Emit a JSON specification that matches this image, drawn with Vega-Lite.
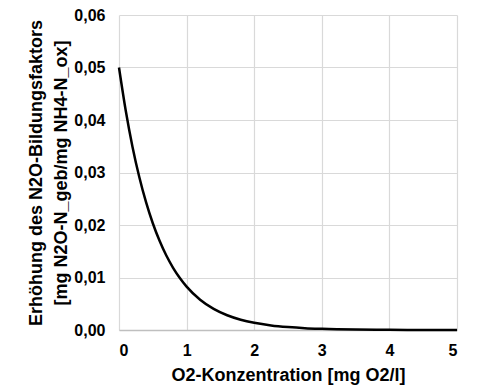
{
  "$schema": "https://vega.github.io/schema/vega-lite/v6.json",
  "width": 338,
  "height": 315,
  "autosize": "none",
  "padding": {"left": 119, "top": 15, "right": 20, "bottom": 59},
  "background": "white",
  "config": {
    "view": {"stroke": null},
    "font": "Liberation Sans"
  },
  "data": {
    "values": [
      {"x": 0, "y": 0.05},
      {"x": 0.1, "y": 0.04176},
      {"x": 0.2, "y": 0.03488},
      {"x": 0.3, "y": 0.02914},
      {"x": 0.4, "y": 0.02434},
      {"x": 0.5, "y": 0.02033},
      {"x": 0.6, "y": 0.01698},
      {"x": 0.7, "y": 0.01418},
      {"x": 0.8, "y": 0.01185},
      {"x": 0.9, "y": 0.0099},
      {"x": 1.0, "y": 0.00826},
      {"x": 1.2, "y": 0.00577},
      {"x": 1.4, "y": 0.00402},
      {"x": 1.6, "y": 0.00281},
      {"x": 1.8, "y": 0.00196},
      {"x": 2.0, "y": 0.00137},
      {"x": 2.25, "y": 0.00087},
      {"x": 2.5, "y": 0.00056},
      {"x": 2.75, "y": 0.00035},
      {"x": 3.0, "y": 0.00023},
      {"x": 3.5, "y": 0.00009},
      {"x": 4.0, "y": 0.000037},
      {"x": 4.5, "y": 0.000015},
      {"x": 5.0, "y": 0.000006}
    ]
  },
  "mark": {"type": "line", "color": "black", "strokeWidth": 2.5, "interpolate": "monotone"},
  "encoding": {
    "x": {
      "field": "x", "type": "quantitative",
      "scale": {"domain": [0, 5], "nice": false},
      "axis": {
        "values": [0, 1, 2, 3, 4, 5],
        "title": "O2-Konzentration [mg O2/l]",
        "titleFontSize": 18, "titleFontWeight": "bold", "titleColor": "#000000",
        "titlePadding": 8,
        "labelFontSize": 16, "labelFontWeight": "bold", "labelColor": "#000000",
        "labelPadding": 12,
        "ticks": false,
        "domainColor": "#bfbfbf", "domainWidth": 1.5,
        "gridColor": "#d9d9d9", "gridWidth": 1.2
      }
    },
    "y": {
      "field": "y", "type": "quantitative",
      "scale": {"domain": [0, 0.06], "nice": false},
      "axis": {
        "values": [0, 0.01, 0.02, 0.03, 0.04, 0.05, 0.06],
        "labelExpr": "replace(format(datum.value, '.2f'), '.', ',')",
        "title": ["Erhöhung des N2O-Bildungsfaktors", "[mg N2O-N_geb/mg NH4-N_ox]"],
        "titleFontSize": 18, "titleFontWeight": "bold", "titleColor": "#000000",
        "titlePadding": 3, "titleLineHeight": 25,
        "labelFontSize": 16, "labelFontWeight": "bold", "labelColor": "#000000",
        "labelPadding": 14,
        "ticks": false,
        "domain": false,
        "gridColor": "#d9d9d9", "gridWidth": 1.2
      }
    }
  }
}
